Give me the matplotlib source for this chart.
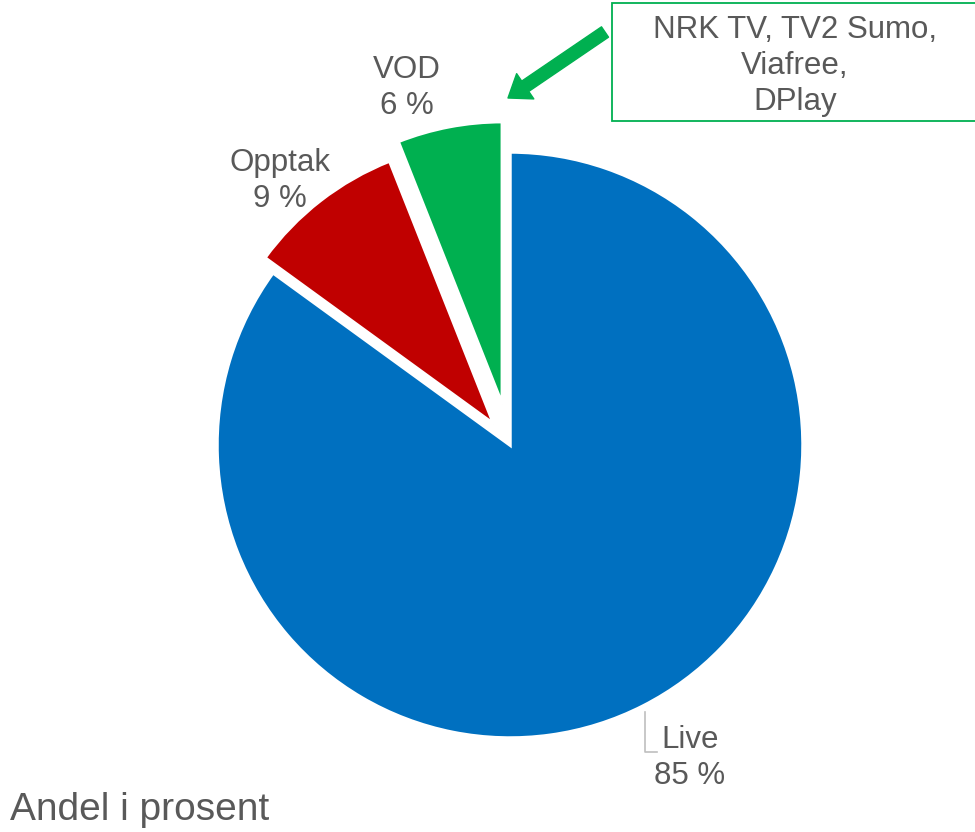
import matplotlib
matplotlib.use("Agg")
import matplotlib.pyplot as plt
from matplotlib.patches import Rectangle

# Data
categories = ["Live", "Opptak", "VOD"]
values = [85, 9, 6]
colors = ["#0070C0", "#C00000", "#00B050"]
explode_frac = [0.0, 0.09, 0.14]
callout_text = "NRK TV, TV2 Sumo,\nViafree,\nDPlay"
footer_text = "Andel i prosent"

plt.rcParams['font.family'] = ['Liberation Sans', 'DejaVu Sans']
text_color = "#595959"

W, H = 975, 832
fig = plt.figure(figsize=(W / 100, H / 100), dpi=100)
ax = fig.add_axes([0, 0, 1, 1])

center = (510, H - 445)
R = 293
wedges, _ = ax.pie(values, colors=colors, explode=[e * R for e in explode_frac],
                   startangle=90, counterclock=False, radius=R, center=center,
                   wedgeprops=dict(edgecolor="white", linewidth=2.5))
for w in wedges[1:]:
    w.set_radius(R * 0.966)

ax.set_xlim(0, W)
ax.set_ylim(0, H)
ax.set_aspect('equal')
ax.axis('off')

# Labels
label_pos = {"Live": (690, H - 758), "Opptak": (280, H - 181), "VOD": (407, H - 88)}
for cat, val in zip(categories, values):
    x, y = label_pos[cat]
    ax.text(x, y, f"{cat}\n{val} %", ha="center", va="center", fontsize=22.5,
            color=text_color, linespacing=1.24)

# Leader line for Live
ax.plot([645, 645, 657], [H - 712, H - 752, H - 752], color="#BFBFBF", lw=1.2)

# Callout box
ax.add_patch(Rectangle((612, H - 121), 400, 118, facecolor="white",
                       edgecolor="#00B050", lw=1.3, clip_on=True))
ax.text(795, H - 66, callout_text, ha="center", va="center", fontsize=22.5,
        color=text_color, linespacing=1.27)

# Arrow
ax.annotate("", xy=(508, H - 98), xytext=(605, H - 32),
            arrowprops=dict(arrowstyle="simple,head_length=15,head_width=22,tail_width=9",
                            color="#00B050", mutation_scale=1, shrinkA=0, shrinkB=0))

# Footer
ax.text(10, H - 810, footer_text, ha="left", va="center", fontsize=28, color=text_color)

fig.savefig("out.png", dpi=100)
